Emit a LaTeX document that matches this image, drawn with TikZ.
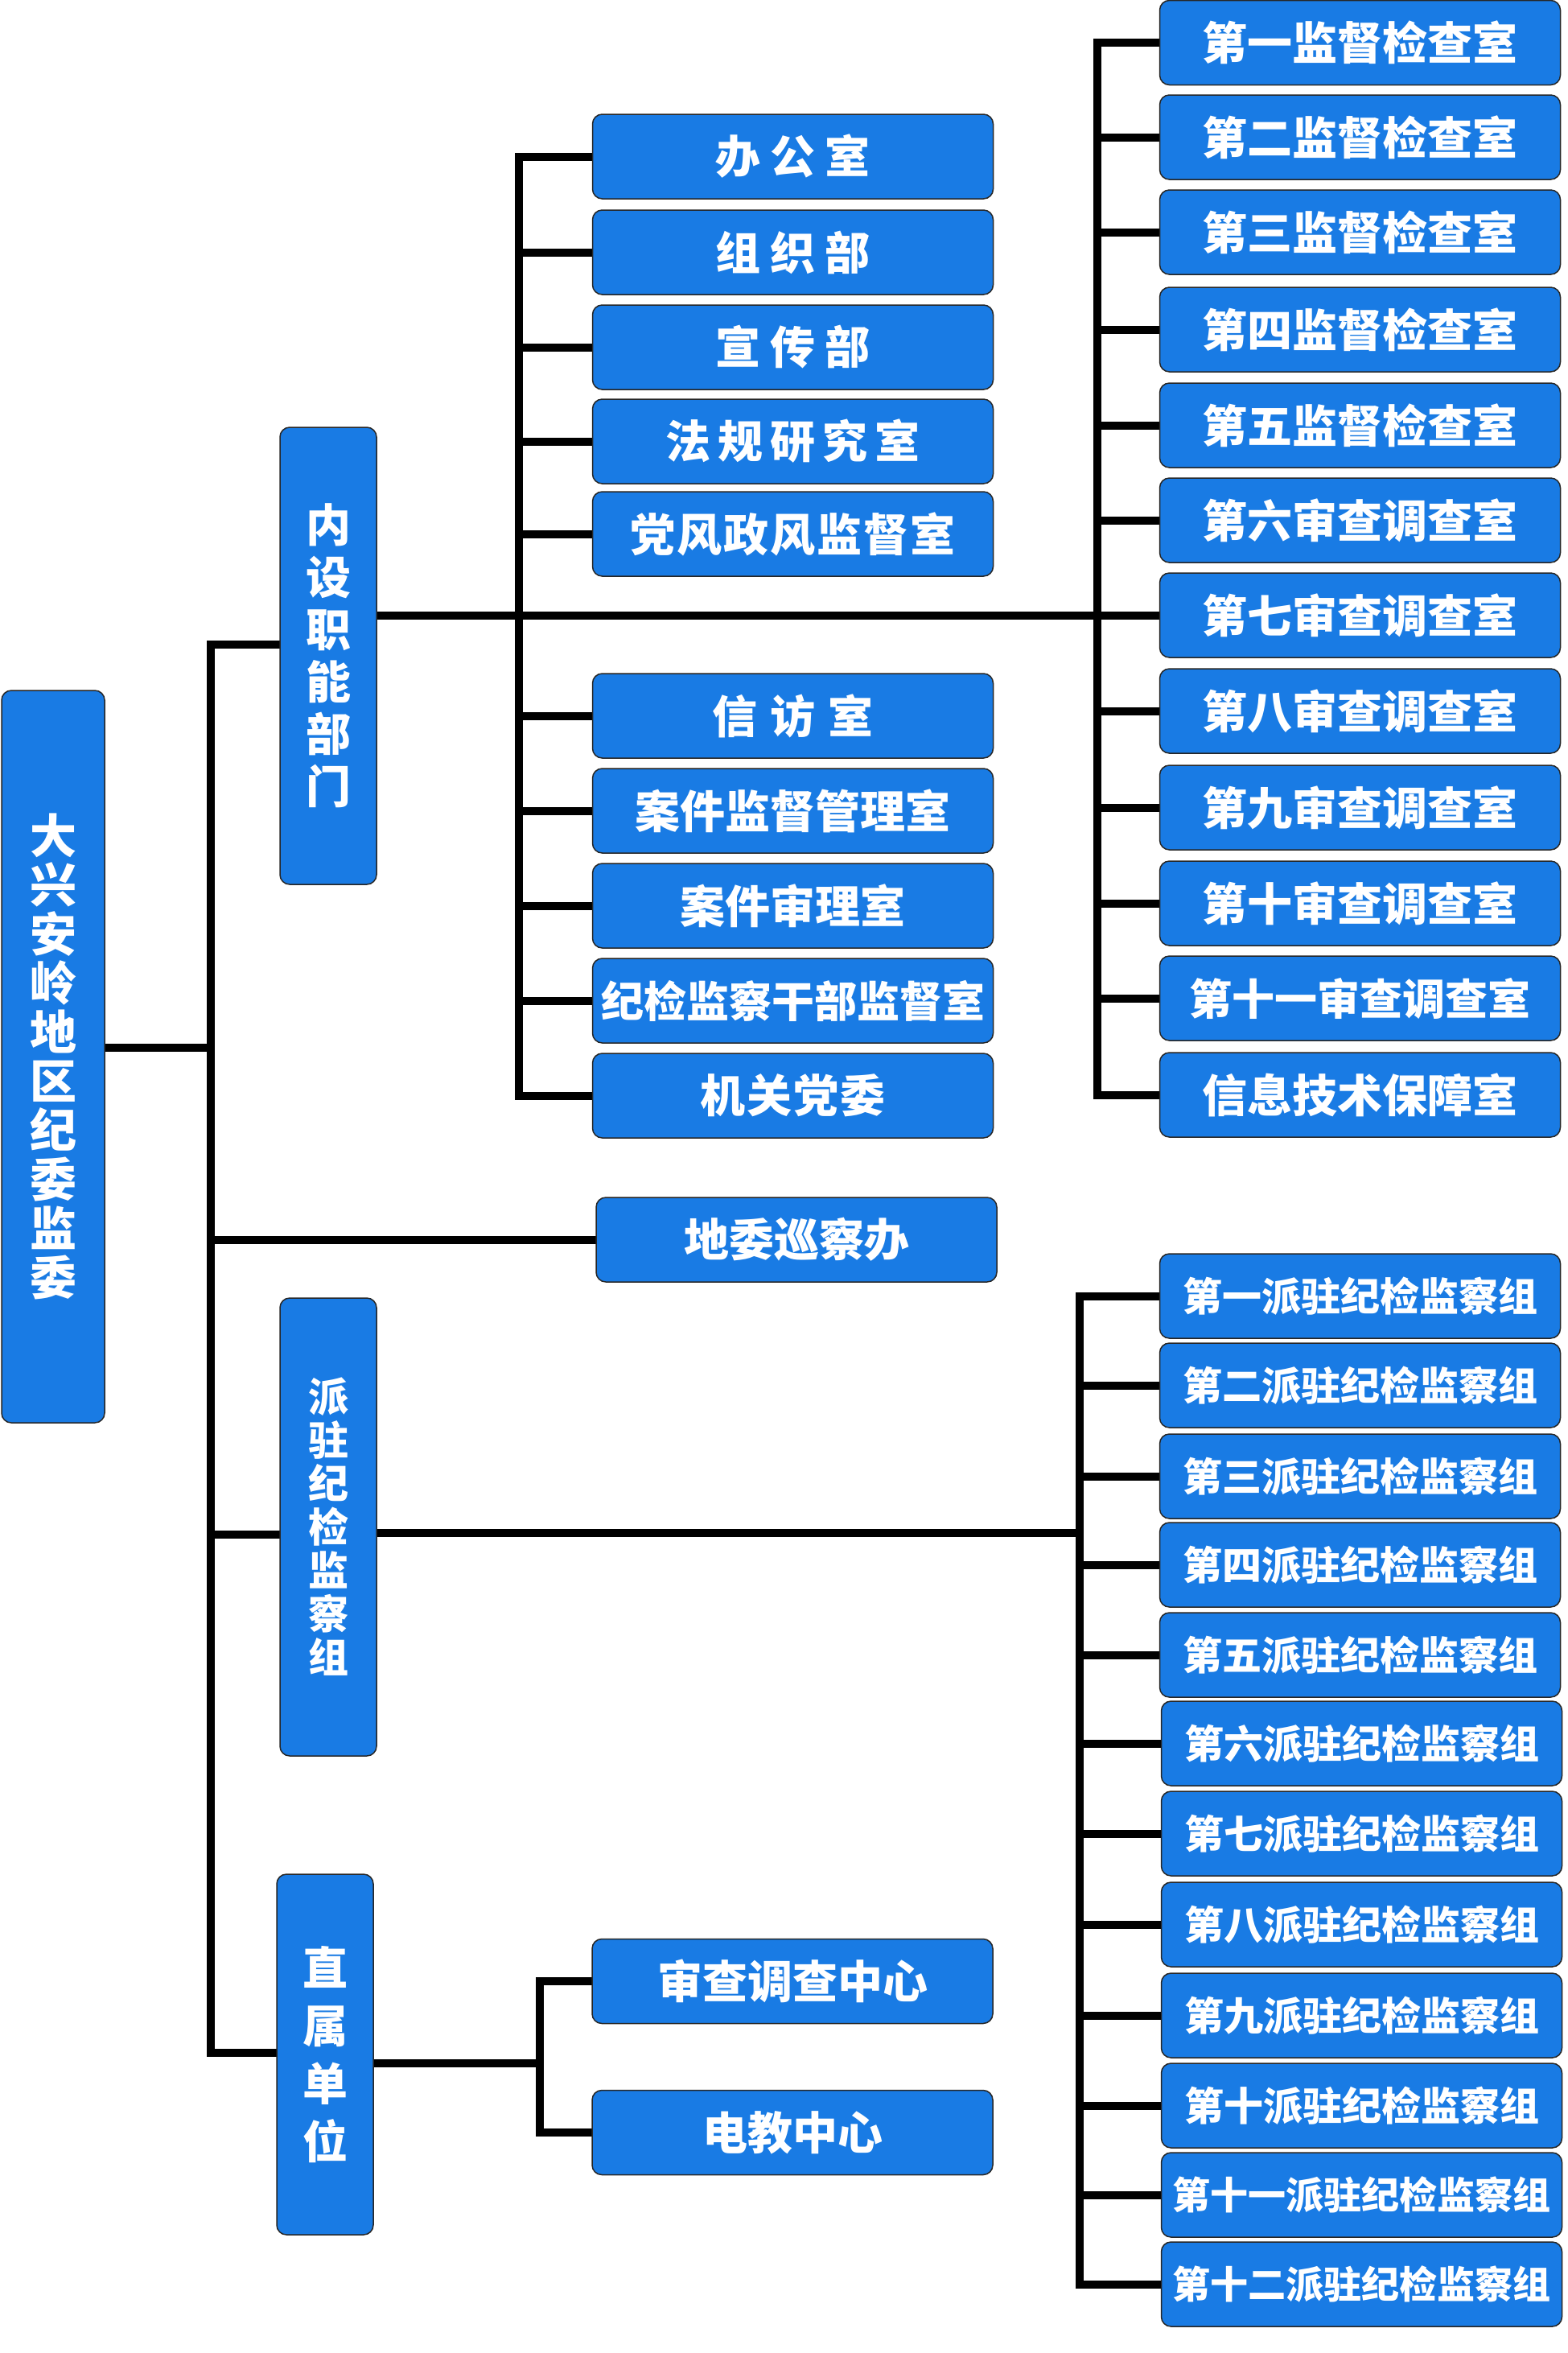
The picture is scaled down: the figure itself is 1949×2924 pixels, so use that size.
\documentclass[tikz,border=0pt]{standalone}
\usepackage{fontspec}
\newfontfamily\cjk{Noto Sans CJK SC}
\usetikzlibrary{backgrounds}
\definecolor{boxblue}{RGB}{25,123,228}
\newcommand{\gA}{\hspace{6pt}}
\newcommand{\gB}{\hspace{8pt}}
\newcommand{\gC}{\hspace{4.5pt}}
\newcommand{\gD}{\hspace{1pt}}
\tikzset{
  box/.style={draw=black!85, line width=0.75pt, fill=boxblue, rounded corners=6pt,
    text=white, inner sep=0pt, font=\cjk\bfseries\fontsize{28}{30}\selectfont},
  wbox/.style={box, minimum width=249pt, minimum height=52.5pt},
  vbox/.style={box, minimum width=60pt, align=center},
  conn/.style={line width=5pt, line cap=rect, black},
  small/.style={font=\cjk\bfseries\fontsize{26.5}{28}\selectfont},
  pbox/.style={wbox, font=\cjk\bfseries\fontsize{24.5}{26}\selectfont},
  pboxs/.style={wbox, font=\cjk\bfseries\fontsize{23.5}{25}\selectfont},
}
\begin{document}
\begin{tikzpicture}[x=0.5pt,y=-0.5pt]
\useasboundingbox (0,0) rectangle (1949,2924);

% main and second level
\node[vbox, minimum width=64pt, minimum height=455pt, font=\cjk\bfseries\fontsize{29}{30.5}\selectfont] (main) at (66,1313) {大\\兴\\安\\岭\\地\\区\\纪\\委\\监\\委};
\node[vbox, minimum height=284pt, font=\cjk\bfseries\fontsize{28}{32.5}\selectfont] (ns) at (408,815) {内\\设\\职\\能\\部\\门};
\node[wbox] (xc) at (990,1540.5) {地委巡察办};
\node[vbox, minimum height=284.5pt, font=\cjk\bfseries\fontsize{25}{27}\selectfont] (pz) at (408,1897.5) {派\\驻\\纪\\检\\监\\察\\组};
\node[vbox, minimum height=224pt, font=\cjk\bfseries\fontsize{28}{36}\selectfont] (zs) at (404,2553) {直\\属\\单\\位};

% inner column
\node[wbox] (i1) at (985.5,194.5) {办\gA 公\gA 室};
\node[wbox] (i2) at (985.5,313.5) {组\gA 织\gA 部};
\node[wbox] (i3) at (985.5,431.5) {宣\gA 传\gA 部};
\node[wbox] (i4) at (985.5,548.5) {法\gC 规\gC 研\gC 究\gC 室};
\node[wbox] (i5) at (985.5,663.5) {党\gD 风\gD 政\gD 风\gD 监\gD 督\gD 室};
\node[wbox] (i6) at (985.5,889.5) {信\gB 访\gB 室};
\node[wbox] (i7) at (985.5,1007.5) {案件监督管理室};
\node[wbox] (i8) at (985.5,1125.5) {案件审理室};
\node[wbox, small] (i9) at (985.5,1243.5) {纪检监察干部监督室};
\node[wbox] (i10) at (985.5,1361.5) {机\gD 关\gD 党\gD 委};

% right column (supervision / investigation)
\node[wbox] (r1) at (1690.5,53) {第一监督检查室};
\node[wbox] (r2) at (1690.5,170.5) {第二监督检查室};
\node[wbox] (r3) at (1690.5,288.5) {第三监督检查室};
\node[wbox] (r4) at (1690.5,409.5) {第四监督检查室};
\node[wbox] (r5) at (1690.5,528.5) {第五监督检查室};
\node[wbox] (r6) at (1690.5,646.5) {第六审查调查室};
\node[wbox] (r7) at (1690.5,764.5) {第七审查调查室};
\node[wbox] (r8) at (1690.5,883.5) {第八审查调查室};
\node[wbox] (r9) at (1690.5,1003.5) {第九审查调查室};
\node[wbox] (r10) at (1690.5,1122.5) {第十审查调查室};
\node[wbox, small] (r11) at (1690.5,1240.5) {第十一审查调查室};
\node[wbox] (r12) at (1690.5,1360.5) {信息技术保障室};

% stationed groups
\node[pbox] (p1) at (1690.5,1610.5) {第一派驻纪检监察组};
\node[pbox] (p2) at (1690.5,1721.5) {第二派驻纪检监察组};
\node[pbox] (p3) at (1690.5,1834.5) {第三派驻纪检监察组};
\node[pbox] (p4) at (1690.5,1944.5) {第四派驻纪检监察组};
\node[pbox] (p5) at (1690.5,2056.5) {第五派驻纪检监察组};
\node[pbox] (p6) at (1692.5,2166.5) {第六派驻纪检监察组};
\node[pbox] (p7) at (1692.5,2278.5) {第七派驻纪检监察组};
\node[pbox] (p8) at (1692.5,2391.5) {第八派驻纪检监察组};
\node[pbox] (p9) at (1692.5,2504.5) {第九派驻纪检监察组};
\node[pbox] (p10) at (1692.5,2616.5) {第十派驻纪检监察组};
\node[pboxs] (p11) at (1692.5,2727.5) {第十一派驻纪检监察组};
\node[pboxs] (p12) at (1692.5,2838.5) {第十二派驻纪检监察组};

% directly affiliated units
\node[wbox] (s1) at (985,2462) {审查调查中心};
\node[wbox] (s2) at (985,2650) {电教中心};

% connector anchors
\coordinate (tT) at (262,801);
\coordinate (tM) at (262,1302);
\coordinate (tX) at (262,1541);
\coordinate (tP) at (262,1907);
\coordinate (tZ) at (262,2551);
\coordinate (ivx) at (645,0);
\coordinate (rvx) at (1364,0);
\coordinate (pvx) at (1342,1905);
\coordinate (zh) at (671,2564);

\begin{scope}[on background layer]
  \fill[white] (0,0) rectangle (1949,2924);
  % trunk
  \draw[conn] (tT) -- (tZ);
  \draw[conn] (main.east |- tM) -- (tM);
  \draw[conn] (tT) -- (tT -| ns.west);
  \draw[conn] (tX) -- (tX -| xc.west);
  \draw[conn] (tP) -- (tP -| pz.west);
  \draw[conn] (tZ) -- (tZ -| zs.west);
  % inner column
  \draw[conn] (i1.west -| ivx) -- (i10.west -| ivx);
  \foreach \n in {1,...,10} \draw[conn] (i\n.west -| ivx) -- (i\n.west);
  % line from ns to right column
  \draw[conn] (ns.east |- r7.west) -- (r7.west);
  % right column
  \draw[conn] (r1.west -| rvx) -- (r12.west -| rvx);
  \foreach \n in {1,...,12} \draw[conn] (r\n.west -| rvx) -- (r\n.west);
  % stationed groups
  \draw[conn] (pz.east |- pvx) -- (pvx);
  \draw[conn] (p1.west -| pvx) -- (p12.west -| pvx);
  \foreach \n in {1,...,12} \draw[conn] (p\n.west -| pvx) -- (p\n.west);
  % directly affiliated
  \draw[conn] (zs.east |- zh) -- (zh);
  \draw[conn] (s1.west -| zh) -- (s2.west -| zh);
  \draw[conn] (s1.west -| zh) -- (s1.west);
  \draw[conn] (s2.west -| zh) -- (s2.west);
\end{scope}
\end{tikzpicture}
\end{document}
